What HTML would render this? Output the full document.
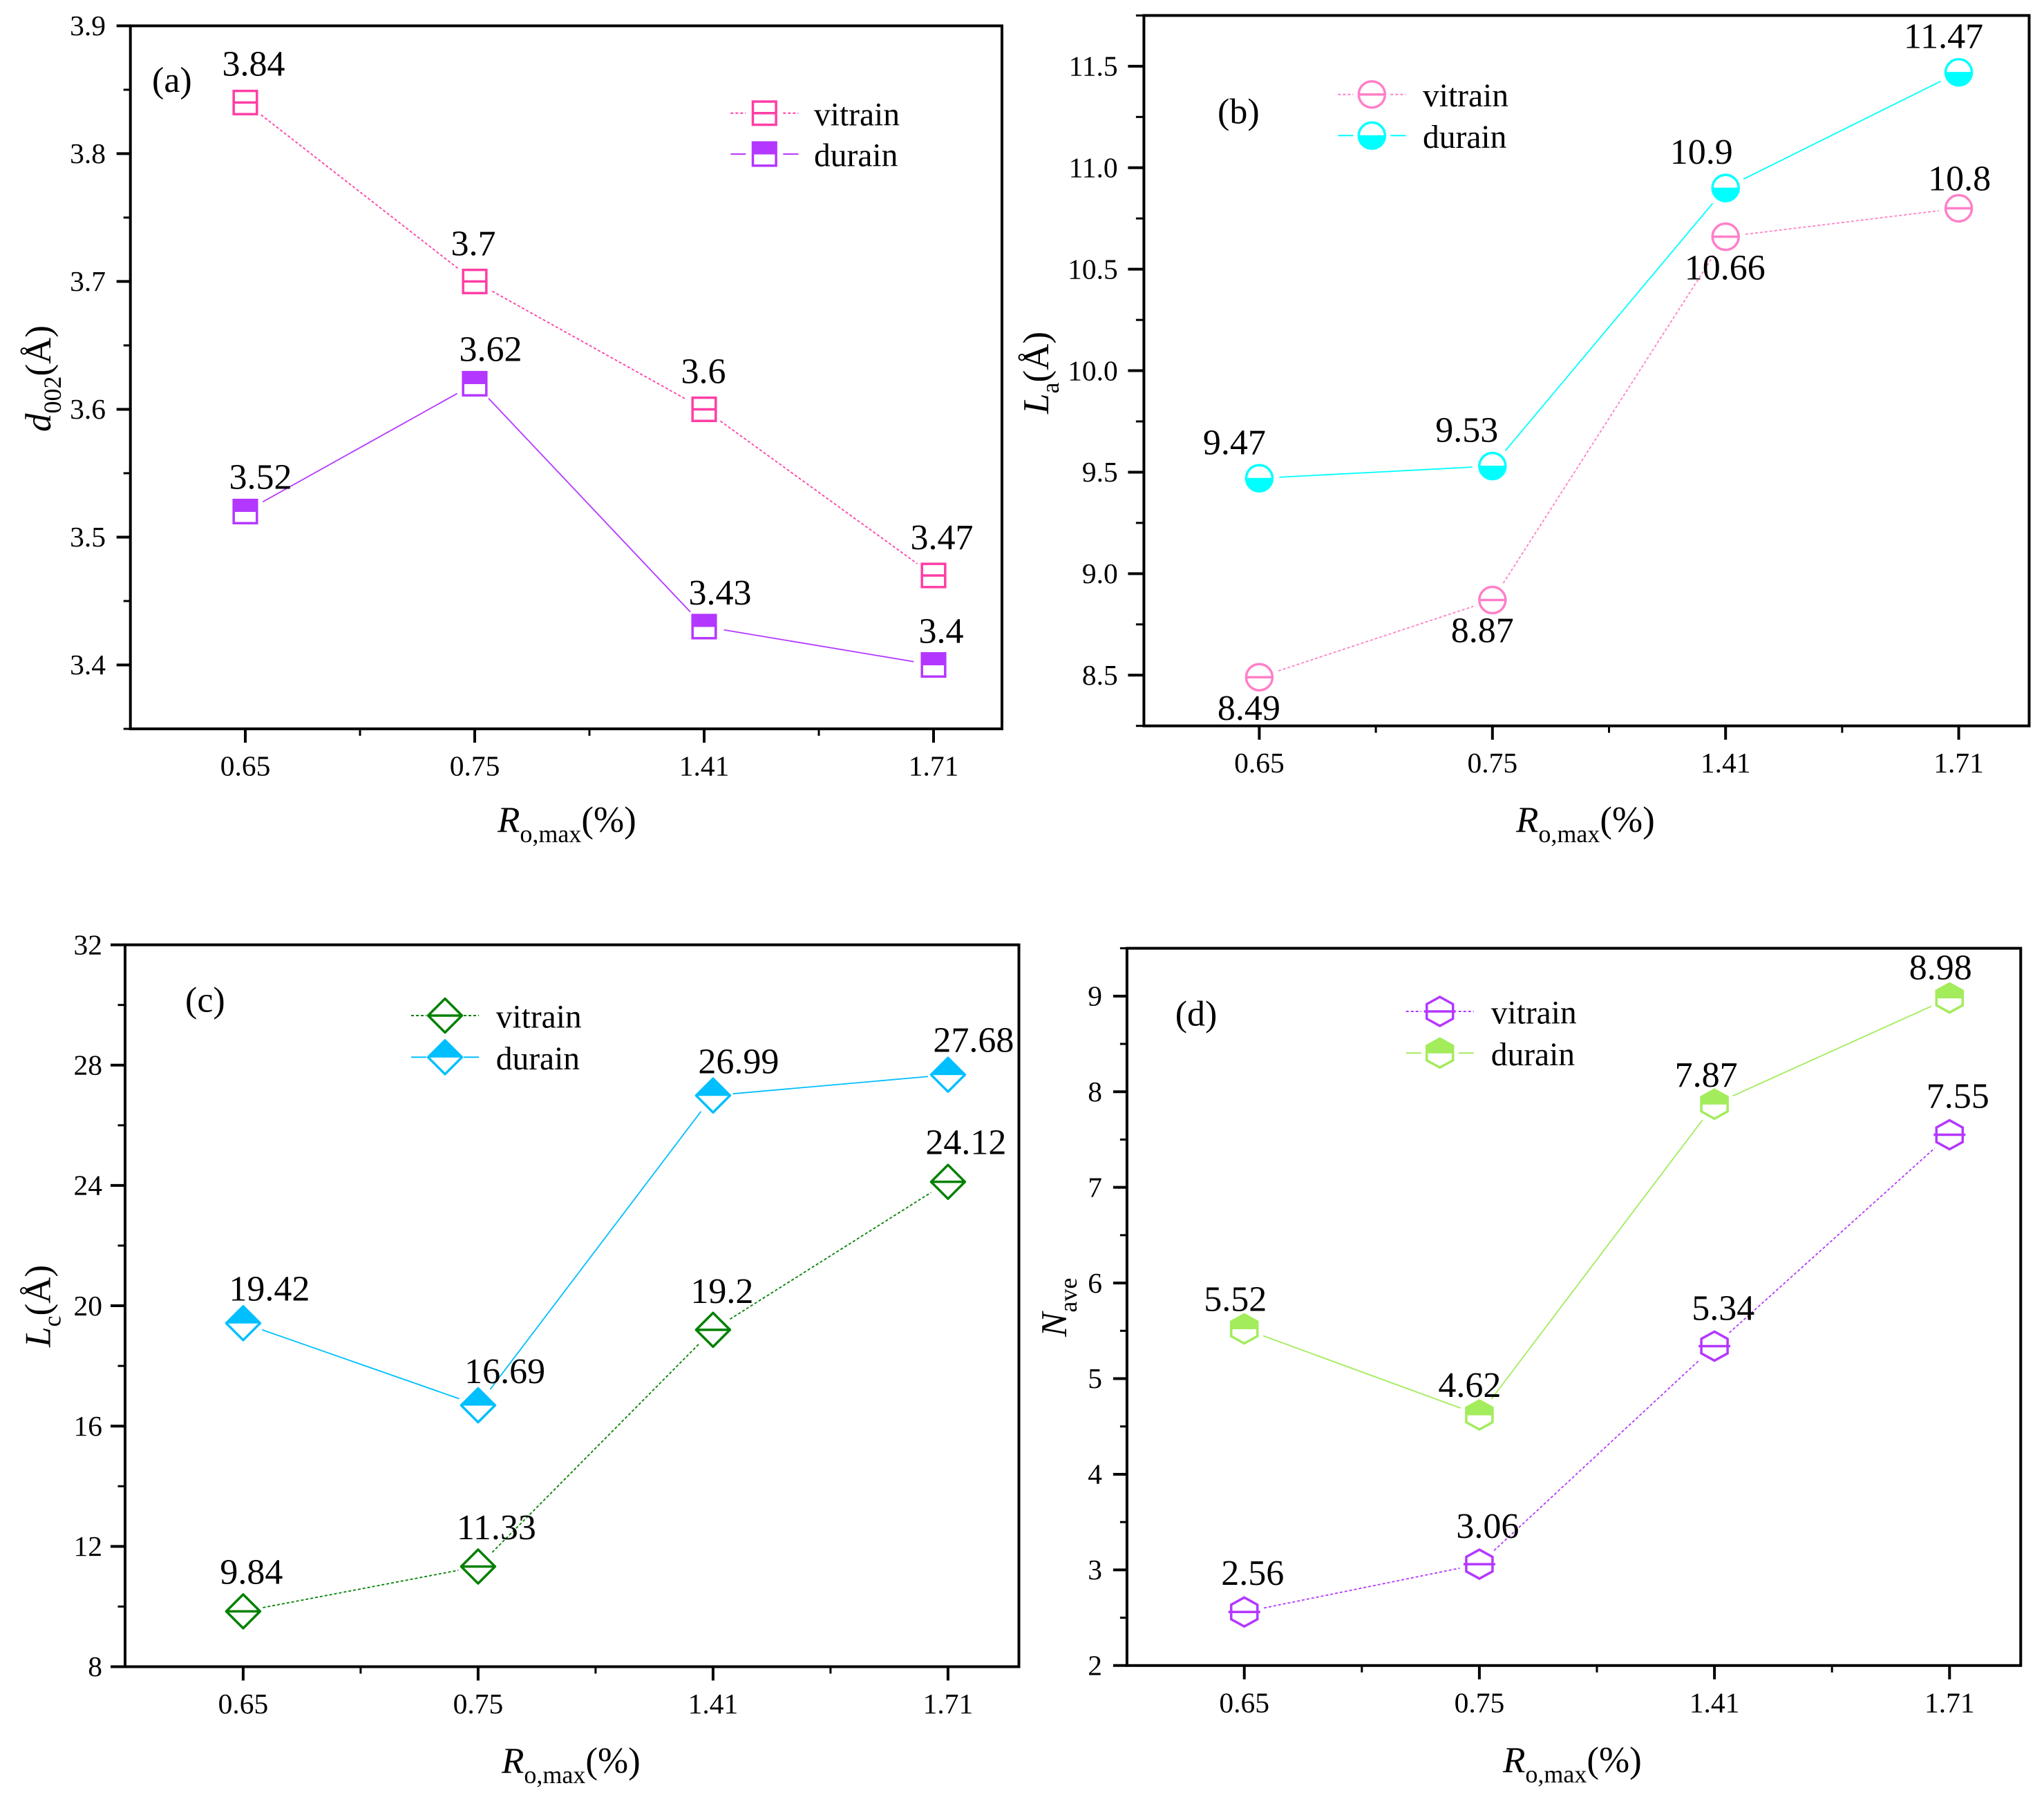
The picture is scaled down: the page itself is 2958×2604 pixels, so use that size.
<!DOCTYPE html>
<html lang="en">
<head>
<meta charset="utf-8">
<title>Coal crystallite parameters vs vitrinite reflectance</title>
<style>
html,body{margin:0;padding:0;background:#fff;}
svg{display:block;font-family:"Liberation Serif",serif;fill:#000;}
</style>
</head>
<body>
<svg id="figure" xmlns="http://www.w3.org/2000/svg" width="2958" height="2604" viewBox="0 0 2958 2604"></svg>
<script>
const categories = ['0.65', '0.75', '1.41', '1.71'];

const d002Vitrain = [3.84, 3.7, 3.6, 3.47];
const d002Durain = [3.52, 3.62, 3.43, 3.4];
const d002TickLabels = ['3.4', '3.5', '3.6', '3.7', '3.8', '3.9'];
const d002MinorTicks = [3.35, 3.45, 3.55, 3.65, 3.75, 3.85];

const laVitrain = [8.49, 8.87, 10.66, 10.8];
const laDurain = [9.47, 9.53, 10.9, 11.47];
const laTickLabels = ['8.5', '9.0', '9.5', '10.0', '10.5', '11.0', '11.5'];
const laMinorTicks = [8.25, 8.75, 9.25, 9.75, 10.25, 10.75, 11.25, 11.75];

const lcVitrain = [9.84, 11.33, 19.2, 24.12];
const lcDurain = [19.42, 16.69, 26.99, 27.68];
const lcTickLabels = ['8', '12', '16', '20', '24', '28', '32'];
const lcMinorTicks = [10, 14, 18, 22, 26, 30];

const naveVitrain = [2.56, 3.06, 5.34, 7.55];
const naveDurain = [5.52, 4.62, 7.87, 8.98];
const naveTickLabels = ['2', '3', '4', '5', '6', '7', '8', '9'];
const naveMinorTicks = [2.5, 3.5, 4.5, 5.5, 6.5, 7.5, 8.5, 9.5];

const NS = 'http://www.w3.org/2000/svg';
const root = document.getElementById('figure');

function mk(parent, tag, attrs, text) {
  const el = document.createElementNS(NS, tag);
  for (const k in attrs) el.setAttribute(k, attrs[k]);
  if (text !== undefined) el.textContent = text;
  parent.appendChild(el);
  return el;
}

function richText(parent, x, y, size, parts, rotate) {
  const attrs = {x: x, y: y, 'font-size': size};
  if (rotate) attrs.transform = 'rotate(-90 ' + x + ' ' + y + ')';
  const t = mk(parent, 'text', attrs);
  let shift = 0;
  parts.forEach(function (p) {
    const a = {};
    if (p.italic) a['font-style'] = 'italic';
    if (p.sub) { a['font-size'] = 36; a.dy = 15 - shift; shift = 15; }
    else if (shift) { a.dy = -shift; shift = 0; }
    mk(t, 'tspan', a, p.t);
  });
  return t;
}

function drawMarker(parent, shape, cx, cy, color, half) {
  const sw = 3.5;
  if (shape === 'square') {
    const s = 16.8;
    mk(parent, 'rect', {x: cx - s, y: cy - s, width: 2 * s, height: 2 * s, fill: '#fff', stroke: color, 'stroke-width': sw});
    if (half) mk(parent, 'rect', {x: cx - s, y: cy - s, width: 2 * s, height: s, fill: color, stroke: color, 'stroke-width': 1});
    else mk(parent, 'line', {x1: cx - s, x2: cx + s, y1: cy, y2: cy, stroke: color, 'stroke-width': sw});
  } else if (shape === 'circle') {
    const r = 19;
    mk(parent, 'circle', {cx: cx, cy: cy, r: r, fill: '#fff', stroke: color, 'stroke-width': sw});
    if (half) mk(parent, 'path', {d: 'M' + (cx - r) + ' ' + cy + 'A' + r + ' ' + r + ' 0 0 0 ' + (cx + r) + ' ' + cy + 'Z', fill: color, stroke: color, 'stroke-width': 1});
    else mk(parent, 'line', {x1: cx - r, x2: cx + r, y1: cy, y2: cy, stroke: color, 'stroke-width': sw});
  } else if (shape === 'diamond') {
    const h = 24.5;
    mk(parent, 'path', {d: 'M' + cx + ' ' + (cy - h) + 'L' + (cx + h) + ' ' + cy + 'L' + cx + ' ' + (cy + h) + 'L' + (cx - h) + ' ' + cy + 'Z', fill: '#fff', stroke: color, 'stroke-width': sw, 'stroke-linejoin': 'round'});
    if (half) mk(parent, 'path', {d: 'M' + cx + ' ' + (cy - h) + 'L' + (cx + h) + ' ' + cy + 'L' + (cx - h) + ' ' + cy + 'Z', fill: color, stroke: color, 'stroke-width': 1});
    else mk(parent, 'line', {x1: cx - h, x2: cx + h, y1: cy, y2: cy, stroke: color, 'stroke-width': sw});
  } else {
    const w = 19, h = 21, q = 10.5;
    mk(parent, 'path', {d: 'M' + cx + ' ' + (cy - h) + 'L' + (cx + w) + ' ' + (cy - q) + 'V' + (cy + q) + 'L' + cx + ' ' + (cy + h) + 'L' + (cx - w) + ' ' + (cy + q) + 'V' + (cy - q) + 'Z', fill: '#fff', stroke: color, 'stroke-width': sw});
    if (half) mk(parent, 'path', {d: 'M' + cx + ' ' + (cy - h) + 'L' + (cx + w) + ' ' + (cy - q) + 'V' + cy + 'H' + (cx - w) + 'V' + (cy - q) + 'Z', fill: color, stroke: color, 'stroke-width': 1});
    else mk(parent, 'line', {x1: cx - 23, x2: cx + 23, y1: cy, y2: cy, stroke: color, 'stroke-width': sw});
  }
}

function drawPanel(p) {
  const g = mk(root, 'g', {});
  
  

  const yScale = function (v) { return p.bottom - (v - p.yMin) / (p.yMax - p.yMin) * (p.bottom - p.top); };
  const xScale = function (i) { return p.x0 + i * p.step; };

  const frame = mk(g, 'rect', {x: p.left, y: p.top, width: p.right - p.left, height: p.bottom - p.top, fill: 'none', stroke: '#000', 'stroke-width': 4});
  
  

  p.tickLabels.forEach(function (lab) {
    const y = yScale(parseFloat(lab));
    const tick = mk(g, 'line', {x1: p.left - p.tickLen, x2: p.left, y1: y, y2: y, stroke: '#000', 'stroke-width': 4});
    
    
    const t = mk(g, 'text', {x: p.yLabelRight, y: y + 13.7, 'font-size': 41.5, 'text-anchor': 'end'}, lab);
    
    
  });
  p.minorTicks.forEach(function (v) {
    const y = yScale(v);
    const tick = mk(g, 'line', {x1: p.left - p.tickLen / 2, x2: p.left, y1: y, y2: y, stroke: '#000', 'stroke-width': 3});
    
    
  });

  categories.forEach(function (c, i) {
    const x = xScale(i);
    const tick = mk(g, 'line', {x1: x, x2: x, y1: p.bottom, y2: p.bottom + 20, stroke: '#000', 'stroke-width': 4});
    
    
    const t = mk(g, 'text', {x: x, y: p.bottom + 67.5, 'font-size': 41.5, 'text-anchor': 'middle'}, c);
    
    
    if (i < categories.length - 1) {
      const mx = xScale(i + 0.5);
      const minor = mk(g, 'line', {x1: mx, x2: mx, y1: p.bottom, y2: p.bottom + 10, stroke: '#000', 'stroke-width': 3});
      
      
    }
  });

  const xTitle = richText(g, p.xTitleX, p.xTitleY, 53, [{t: 'R', italic: true}, {t: 'o,max', sub: true}, {t: '(%)'}]);
  
  
  const yTitle = richText(g, p.yTitleX, p.yTitleY, 53, p.yTitle, true);
  
  
  const letter = mk(g, 'text', {x: p.letterX, y: p.letterY, 'font-size': 52}, '(' + p.id + ')');
  
  

  const seriesList = [
    {name: 'vitrain', values: p.vitrain, color: p.vitrainColor, half: false, dash: '4 3', sw: 1.8, offsets: p.vitrainOffsets, ly: p.legendY1},
    {name: 'durain', values: p.durain, color: p.durainColor, half: true, dash: null, sw: 1.8, offsets: p.durainOffsets, ly: p.legendY2}
  ];

  seriesList.forEach(function (s) {
    const sg = mk(g, 'g', {});
    
    
    for (let i = 0; i < s.values.length - 1; i++) {
      const x1 = xScale(i), y1 = yScale(s.values[i]), x2 = xScale(i + 1), y2 = yScale(s.values[i + 1]);
      const len = Math.hypot(x2 - x1, y2 - y1);
      const ux = (x2 - x1) / len, uy = (y2 - y1) / len;
      const attrs = {x1: x1 + ux * p.gap, y1: y1 + uy * p.gap, x2: x2 - ux * p.gap, y2: y2 - uy * p.gap, stroke: s.color, 'stroke-width': s.sw};
      if (s.dash) attrs['stroke-dasharray'] = s.dash;
      const seg = mk(sg, 'line', attrs);
      
      
    }
    s.values.forEach(function (v, i) {
      const mg = mk(sg, 'g', {});
      
      
      drawMarker(mg, p.shape, xScale(i), yScale(v), s.color, s.half);
    });
  });

  seriesList.forEach(function (s) {
    s.values.forEach(function (v, i) {
      const t = mk(g, 'text', {x: xScale(i) + s.offsets[i][0], y: yScale(v) + s.offsets[i][1], 'font-size': 52, 'text-anchor': 'middle'}, String(v));
      
      
    });
  });

  seriesList.forEach(function (s) {
    const lg = mk(g, 'g', {});
    
    
    [[-49, -p.legendGap], [p.legendGap, 49]].forEach(function (r) {
      const a = {x1: p.legendX + r[0], x2: p.legendX + r[1], y1: s.ly, y2: s.ly, stroke: s.color, 'stroke-width': 2};
      if (s.dash) a['stroke-dasharray'] = s.dash;
      mk(lg, 'line', a);
    });
    drawMarker(lg, p.shape, p.legendX, s.ly, s.color, s.half);
    mk(lg, 'text', {x: p.legendTextX, y: s.ly + 17.5, 'font-size': 47.5}, s.name);
  });
}

drawPanel({
  id: 'a', left: 188.7, right: 1450, top: 37.4, bottom: 1055, yMin: 3.35, yMax: 3.9,
  x0: 355, step: 332, tickLen: 20, yLabelRight: 153, gap: 29,
  tickLabels: d002TickLabels, minorTicks: d002MinorTicks,
  vitrain: d002Vitrain, durain: d002Durain, shape: 'square',
  vitrainColor: '#FF3EA5', durainColor: '#B437FF',
  vitrainOffsets: [[12, -39], [-2, -38], [-1, -38], [12, -38]],
  durainOffsets: [[22, -33], [23, -33], [23, -32], [11, -32]],
  xTitleX: 720, xTitleY: 1204,
  yTitleX: 73, yTitleY: 625,
  yTitle: [{t: 'd', italic: true}, {t: '002', sub: true}, {t: '(Å)'}],
  letterX: 220, letterY: 133,
  legendX: 1106.3, legendY1: 163.8, legendY2: 223, legendTextX: 1178, legendGap: 27
});

drawPanel({
  id: 'b', left: 1655.4, right: 2936.5, top: 22.4, bottom: 1050.7, yMin: 8.25, yMax: 11.75,
  x0: 1822.4, step: 337.4, tickLen: 23, yLabelRight: 1617.7, gap: 29,
  tickLabels: laTickLabels, minorTicks: laMinorTicks,
  vitrain: laVitrain, durain: laDurain, shape: 'circle',
  vitrainColor: '#FF7FC8', durainColor: '#00FFFF',
  vitrainOffsets: [[-15, 62], [-14.5, 61], [-1, 62], [1, -26]],
  durainOffsets: [[-36, -35], [-37, -35], [-35, -35], [-22, -35]],
  xTitleX: 2194, xTitleY: 1204,
  yTitleX: 1517, yTitleY: 599,
  yTitle: [{t: 'L', italic: true}, {t: 'a', sub: true}, {t: '(Å)'}],
  letterX: 1762, letterY: 178.6,
  legendX: 1985.3, legendY1: 136.7, legendY2: 196.3, legendTextX: 2059, legendGap: 27
});

drawPanel({
  id: 'c', left: 181, right: 1474.5, top: 1367.6, bottom: 2412.5, yMin: 8, yMax: 32,
  x0: 351.9, step: 340, tickLen: 21, yLabelRight: 148, gap: 29,
  tickLabels: lcTickLabels, minorTicks: lcMinorTicks,
  vitrain: lcVitrain, durain: lcDurain, shape: 'diamond',
  vitrainColor: '#008000', durainColor: '#00BFFF',
  vitrainOffsets: [[12, -40], [26.5, -39.5], [13, -39], [26, -40]],
  durainOffsets: [[38, -33], [38.7, -32], [37, -32], [37, -33]],
  xTitleX: 726, xTitleY: 2566,
  yTitleX: 72.6, yTitleY: 1950,
  yTitle: [{t: 'L', italic: true}, {t: 'c', sub: true}, {t: '(Å)'}],
  letterX: 268, letterY: 1464.5,
  legendX: 644, legendY1: 1470, legendY2: 1530.3, legendTextX: 717.7, legendGap: 27
});

drawPanel({
  id: 'd', left: 1630.9, right: 2924.3, top: 1372.6, bottom: 2410.8, yMin: 2, yMax: 9.5,
  x0: 1800.7, step: 340.2, tickLen: 20, yLabelRight: 1595, gap: 29,
  tickLabels: naveTickLabels, minorTicks: naveMinorTicks,
  vitrain: naveVitrain, durain: naveDurain, shape: 'hexagon',
  vitrainColor: '#B437FF', durainColor: '#A3EC5C',
  vitrainOffsets: [[12, -39.5], [12, -38], [12.7, -38], [12, -39]],
  durainOffsets: [[-13, -26], [-14, -26], [-12, -25], [-13, -27]],
  xTitleX: 2175, xTitleY: 2565,
  yTitleX: 1543, yTitleY: 1935,
  yTitle: [{t: 'N', italic: true}, {t: 'ave', sub: true}],
  letterX: 1700.7, letterY: 1484.7,
  legendX: 2083.7, legendY1: 1464, legendY2: 1524.3, legendTextX: 2157.7, legendGap: 27
});
</script>
</body>
</html>
